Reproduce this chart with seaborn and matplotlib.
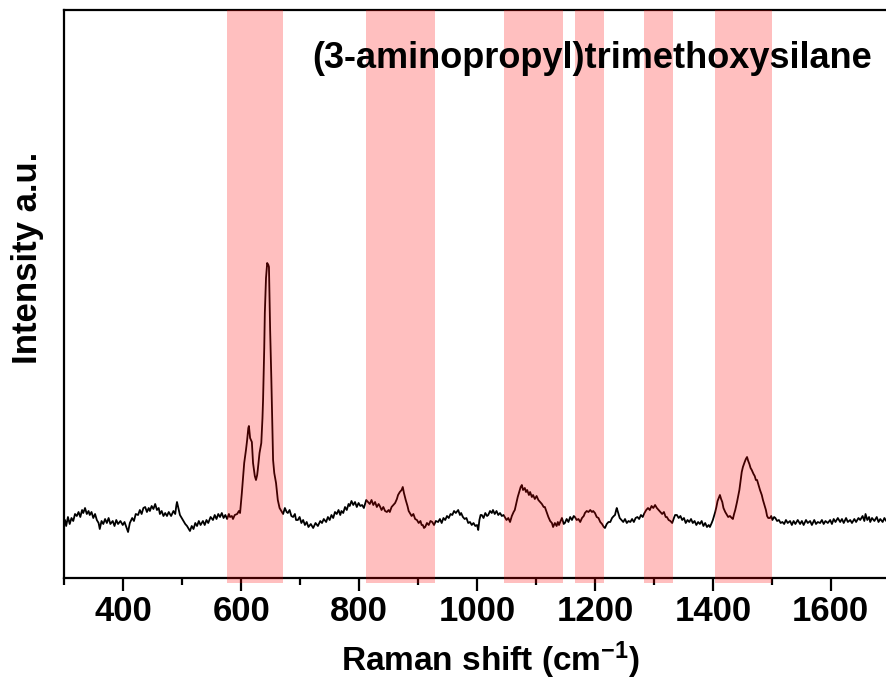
import matplotlib
matplotlib.use("Agg")
import matplotlib.pyplot as plt
import seaborn as sns
import pandas as pd
from matplotlib.ticker import MultipleLocator

# Raman shift (cm^-1), segment by segment
w_a = [301, 303, 306, 309, 312, 315, 318, 321, 324, 327, 330, 332, 335, 338, 341, 343,
       346, 349, 352, 355, 358, 360, 363, 366, 369, 372, 375, 378, 382, 385, 388, 391,
       395, 399, 402, 405, 408, 411, 415, 418, 421, 425, 428, 431, 434, 437, 440, 443,
       445, 448, 451, 454, 457, 460, 462, 465, 468, 471, 474, 477, 481, 485, 488, 490,
       491, 494, 496, 499, 502, 505, 508, 511, 513, 516, 519, 522, 525, 528, 531, 535,
       538, 541, 544, 548, 552, 555, 558, 561, 564, 567, 570, 573, 576, 579, 581, 584,
       586, 589, 593, 596, 598]
i_a = [58, 52, 61, 54, 60, 57, 64, 62, 66, 61, 68, 65, 70, 64, 67, 63,
       66, 60, 64, 58, 55, 49, 57, 54, 59, 55, 60, 54, 57, 52, 58, 54,
       57, 53, 56, 51, 46, 55, 60, 57, 64, 63, 68, 64, 70, 71, 66, 70,
       67, 72, 69, 74, 68, 70, 64, 67, 62, 65, 62, 66, 62, 67, 64, 73,
       76, 68, 63, 60, 57, 54, 52, 49, 47, 52, 49, 55, 52, 57, 53, 57,
       53, 58, 55, 61, 58, 63, 59, 64, 61, 65, 60, 63, 59, 64, 61, 62,
       59, 63, 64, 67, 65]

w_b = [601, 603, 605, 608, 610, 612, 613, 615, 618, 620, 623, 625, 627, 628, 631, 634,
       636, 637, 639, 640, 642, 644, 646, 647, 648, 649, 651, 652, 654, 656, 659, 662,
       665, 669, 671, 674, 677, 679, 682, 685, 688, 691, 693, 696]
i_b = [85, 100, 115, 128, 138, 150, 152, 140, 136, 115, 102, 98, 103, 108, 125, 135,
       160, 178, 230, 265, 300, 315, 313, 311, 280, 248, 200, 171, 118, 105, 95, 78,
       70, 66, 64, 70, 66, 65, 68, 62, 61, 64, 58, 58]

w_c = [699, 702, 705, 708, 711, 714, 718, 722, 726, 730, 734, 737, 740, 744, 747, 750,
       753, 756, 759, 762, 765, 768, 770, 773, 776, 779, 782, 784, 787, 790, 793, 796,
       799, 802, 805, 808, 812, 815, 818, 821, 824, 827, 830, 833, 835, 838, 841, 844,
       847, 850, 852, 855, 858, 861, 864, 866, 869, 872, 874, 876, 879, 882, 884, 886,
       889, 892, 895, 898, 901, 904, 906, 908, 910, 912, 915, 918, 921, 924, 927, 930,
       934, 937, 940, 943, 946, 949, 952, 955, 958, 961, 964, 968, 971, 973, 976, 979,
       982, 985, 988, 991, 994, 997, 1000, 1002, 1004, 1006, 1008, 1011, 1014, 1017,
       1019, 1022, 1025, 1027, 1030, 1033, 1036, 1039, 1042, 1045]
i_c = [61, 55, 58, 53, 56, 51, 54, 50, 55, 52, 57, 55, 59, 56, 61, 58,
       63, 60, 66, 64, 68, 63, 67, 65, 71, 68, 74, 72, 77, 73, 76, 71,
       75, 72, 73, 70, 78, 76, 74, 78, 73, 76, 71, 74, 72, 68, 71, 67,
       66, 68, 66, 71, 73, 75, 79, 83, 86, 88, 91, 85, 78, 72, 67, 65,
       62, 64, 59, 58, 55, 57, 53, 53, 50, 51, 55, 53, 57, 56, 53, 57,
       56, 59, 55, 60, 58, 62, 60, 64, 63, 67, 65, 68, 63, 65, 61, 59,
       60, 55, 56, 53, 55, 52, 53, 48, 58, 63, 63, 60, 65, 62,
       63, 67, 65, 68, 64, 67, 63, 65, 62, 63]

w_d = [1047, 1050, 1053, 1056, 1059, 1062, 1064, 1067, 1069, 1072, 1074, 1076, 1078,
       1081, 1083, 1085, 1088, 1090, 1093, 1095, 1098, 1101, 1104, 1107, 1110, 1113,
       1115, 1118, 1121, 1124, 1127, 1129, 1132, 1135, 1137, 1139, 1141, 1144, 1147,
       1149, 1152, 1155, 1158, 1161, 1164, 1166, 1169, 1172, 1175, 1178, 1181, 1183,
       1186, 1189, 1192, 1195, 1197, 1200, 1203, 1206, 1209, 1212, 1215, 1217, 1220,
       1223, 1226, 1229, 1232, 1234, 1236, 1237, 1239, 1242, 1245, 1248, 1251, 1254,
       1257, 1260, 1263, 1266, 1269, 1272, 1275, 1278, 1281, 1284, 1287, 1290, 1293,
       1296, 1299, 1302, 1305, 1308, 1311, 1314, 1317, 1320, 1322, 1325, 1328, 1331,
       1334, 1336, 1339, 1342, 1345, 1348, 1351, 1354, 1357, 1360, 1363, 1366, 1369,
       1372, 1375, 1378, 1381, 1384, 1387, 1390, 1393, 1395, 1398]
i_d = [61, 58, 60, 56, 62, 66, 68, 76, 81, 87, 91, 93, 88,
       90, 86, 88, 83, 86, 81, 83, 79, 82, 78, 76, 74, 71,
       71, 66, 61, 57, 55, 51, 55, 52, 56, 53, 56, 60, 54,
       55, 59, 56, 61, 58, 62, 61, 58, 59, 56, 60, 62, 65,
       67, 66, 68, 66, 67, 65, 61, 60, 56, 54, 51, 50, 54,
       56, 56, 60, 62, 63, 68, 70, 66, 60, 58, 56, 59, 55,
       57, 56, 59, 56, 60, 61, 59, 63, 61, 65, 68, 70, 68,
       72, 70, 73, 70, 68, 66, 64, 66, 61, 61, 58, 57, 55,
       60, 63, 63, 60, 62, 58, 60, 55, 58, 56, 59, 55, 57,
       53, 56, 54, 57, 52, 55, 51, 53, 51, 55]

w_e = [1400, 1402, 1404, 1406, 1408, 1410, 1412, 1414, 1416, 1418, 1421, 1424, 1426,
       1429, 1432, 1434, 1436, 1438, 1441, 1443, 1445, 1447, 1449, 1451, 1454, 1456,
       1458, 1460, 1462, 1464, 1466, 1469, 1471, 1473, 1475, 1478, 1480, 1483, 1485,
       1488, 1490, 1492, 1494, 1497, 1499, 1501]
i_e = [58, 62, 66, 71, 77, 80, 83, 79, 76, 70, 66, 63, 61,
       62, 60, 59, 64, 68, 76, 82, 88, 97, 106, 111, 116, 119,
       121, 117, 114, 110, 108, 104, 102, 98, 98, 92, 88, 83, 78,
       72, 68, 62, 60, 60, 62, 58]

w_f = [1504, 1506, 1509, 1512, 1515, 1518, 1521, 1524, 1527, 1531, 1534, 1537, 1540,
       1544, 1548, 1551, 1554, 1558, 1561, 1565, 1568, 1572, 1575, 1578, 1582, 1585,
       1588, 1591, 1595, 1599, 1602, 1605, 1608, 1612, 1616, 1619, 1622, 1626, 1629,
       1633, 1636, 1640, 1643, 1647, 1650, 1654, 1657, 1659, 1662, 1665, 1667, 1670,
       1674, 1678, 1681, 1684, 1688, 1691, 1694, 1697, 1700]
i_f = [61, 60, 57, 58, 55, 56, 54, 58, 55, 57, 53, 57, 54,
       58, 54, 57, 53, 58, 55, 57, 53, 58, 54, 56, 55, 58,
       54, 57, 55, 58, 54, 59, 56, 60, 56, 59, 55, 60, 56,
       58, 55, 59, 56, 60, 58, 62, 57, 64, 58, 61, 56, 60,
       57, 61, 56, 59, 56, 60, 57, 59, 58]

wavenumber = w_a + w_b + w_c + w_d + w_e + w_f
intensity = i_a + i_b + i_c + i_d + i_e + i_f

# highlighted bands (cm^-1)
band_start = [575, 812, 1046, 1166, 1283, 1403]
band_end = [670, 929, 1146, 1216, 1333, 1501]

x_ticks = [400, 600, 800, 1000, 1200, 1400, 1600]
title_text = "(3-aminopropyl)trimethoxysilane"

sns.set_style("ticks")
plt.rcParams["font.family"] = ["Liberation Sans", "DejaVu Sans"]
plt.rcParams["font.weight"] = "bold"
plt.rcParams["text.color"] = "black"
plt.rcParams["axes.labelcolor"] = "black"
plt.rcParams["xtick.color"] = "black"
plt.rcParams["ytick.color"] = "black"
plt.rcParams["mathtext.fontset"] = "custom"
plt.rcParams["mathtext.rm"] = "Liberation Sans:bold"
plt.rcParams["mathtext.bf"] = "Liberation Sans:bold"
plt.rcParams["mathtext.default"] = "rm"

df = pd.DataFrame({"w": wavenumber, "I": intensity})

fig = plt.figure(figsize=(8.86, 6.81), dpi=100)
ax = fig.add_axes([64.4 / 886, 103 / 681, (889.7 - 64.4) / 886, 568 / 681])

sns.lineplot(data=df, x="w", y="I", ax=ax, color="black", linewidth=1.3, zorder=2)

for s, e in zip(band_start, band_end):
    ax.axvspan(s, e, ymin=-0.008, ymax=1, color="red", alpha=0.25, lw=0,
               zorder=3, clip_on=False)

ax.set_xlim(300, 1700)
ax.set_ylim(0, 568)
ax.set_xticks(x_ticks)
ax.xaxis.set_minor_locator(MultipleLocator(100))
ax.set_yticks([])
ax.tick_params(axis="x", which="major", direction="out", length=9, width=1.6,
               labelsize=25, pad=3, color="black", labelcolor="black")
ax.tick_params(axis="x", which="minor", direction="out", length=5, width=1.6,
               color="black")
for lab in ax.get_xticklabels():
    lab.set_fontweight("bold")
for sp in ax.spines.values():
    sp.set_linewidth(1.6)
    sp.set_color("black")
    sp.set_visible(True)

ax.set_xlabel(r"Raman shift (cm$^{-1}$)", fontsize=24, fontweight="bold")
ax.set_ylabel("Intensity a.u.", fontsize=25, fontweight="bold")
ax.xaxis.set_label_coords((490 - 64.4) / 825.3, (578 - 660) / 568)
ax.xaxis.label.set_va("center")
ax.yaxis.set_label_coords((28 - 64.4) / 825.3, (578 - 258) / 568)
ax.yaxis.label.set_va("center")

ax.text((872 - 64.4) / 825.3, 0.915, title_text, transform=ax.transAxes, fontsize=26,
        fontweight="bold", ha="right", va="center", zorder=5)

fig.savefig("out.png", dpi=100)
